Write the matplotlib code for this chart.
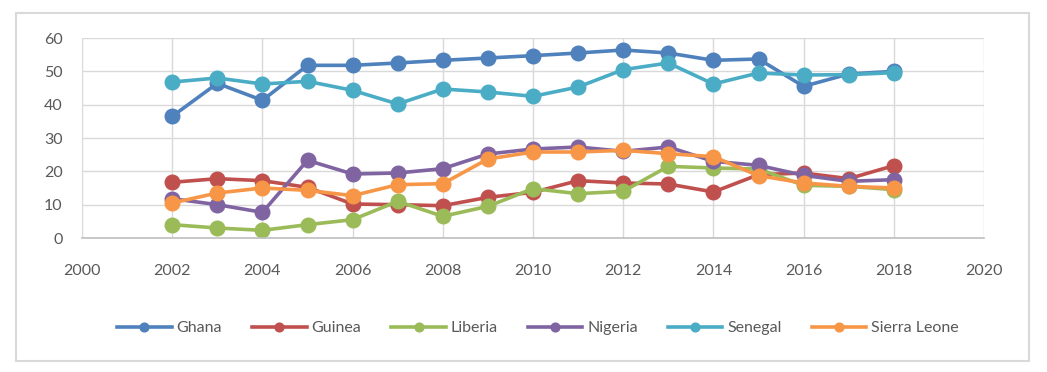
import matplotlib.pyplot as plt
from matplotlib.patches import Rectangle

years = list(range(2002, 2019))
ghana = [36.5, 46.4, 41.3, 51.8, 51.8, 52.5, 53.3, 54.0, 54.7, 55.5, 56.4, 55.5, 53.3, 53.7, 45.5, 49.2, 50.0]
guinea = [16.7, 17.8, 17.2, 15.2, 10.2, 10.0, 9.7, 12.2, 13.7, 17.2, 16.5, 16.2, 13.8, 19.0, 19.5, 17.8, 21.7]
liberia = [4.0, 3.0, 2.3, 4.0, 5.5, 11.0, 6.5, 9.5, 14.8, 13.3, 14.0, 21.5, 21.0, 20.7, 15.8, 15.5, 14.5]
nigeria = [11.8, 10.0, 7.7, 23.3, 19.2, 19.5, 20.8, 25.2, 26.7, 27.3, 26.0, 27.3, 23.0, 21.8, 18.8, 17.0, 17.5]
senegal = [46.8, 48.0, 46.2, 47.0, 44.3, 40.2, 44.7, 43.8, 42.5, 45.3, 50.5, 52.5, 46.2, 49.5, 48.9, 49.0, 49.6]
sierra_leone = [10.5, 13.5, 15.0, 14.3, 12.7, 16.0, 16.3, 23.7, 25.8, 25.8, 26.3, 25.3, 24.4, 18.7, 16.5, 15.5, 15.0]

names = ['Ghana', 'Guinea', 'Liberia', 'Nigeria', 'Senegal', 'Sierra Leone']
series = [ghana, guinea, liberia, nigeria, senegal, sierra_leone]
colors = ['#4F81BD', '#C0504D', '#9BBB59', '#8064A2', '#4BACC6', '#F79646']

plt.rcParams['font.family'] = ['Lato', 'DejaVu Sans']

fig = plt.figure(figsize=(10.47, 3.72), dpi=100)
ax = fig.add_axes([82 / 1047, 1 - 238 / 372, 902 / 1047, 200 / 372])

for name, vals, c in zip(names, series, colors):
    ax.plot(years, vals, color=c, lw=2.6, marker='o', markersize=10.5, label=name)

ax.set_xlim(2000, 2020)
ax.set_ylim(0, 60)
ax.set_xticks(range(2000, 2021, 2))
ax.set_yticks(range(0, 61, 10))
ax.grid(True, color='#D9D9D9', lw=1)
ax.set_axisbelow(True)
for s in ['top', 'right', 'left']:
    ax.spines[s].set_visible(False)
ax.spines['bottom'].set_color('#BFBFBF')
ax.spines['bottom'].set_linewidth(1.2)
ax.tick_params(axis='both', length=0, labelsize=11.5, colors='#595959')
ax.tick_params(axis='x', pad=19)
ax.tick_params(axis='y', pad=14)

leg = fig.legend(loc='center', bbox_to_anchor=(538 / 1047, 1 - 328 / 372), ncol=6,
                 frameon=False, fontsize=11.5, handlelength=3.4, handletextpad=0.3,
                 columnspacing=1.9, markerscale=0.6, labelcolor='#595959')

fig.patches.append(Rectangle((16 / 1047, 1 - 361 / 372), 1013 / 1047, 348 / 372,
                             transform=fig.transFigure, fill=False,
                             edgecolor='#D9D9D9', lw=1.5))

fig.savefig('out.png', dpi=100)
